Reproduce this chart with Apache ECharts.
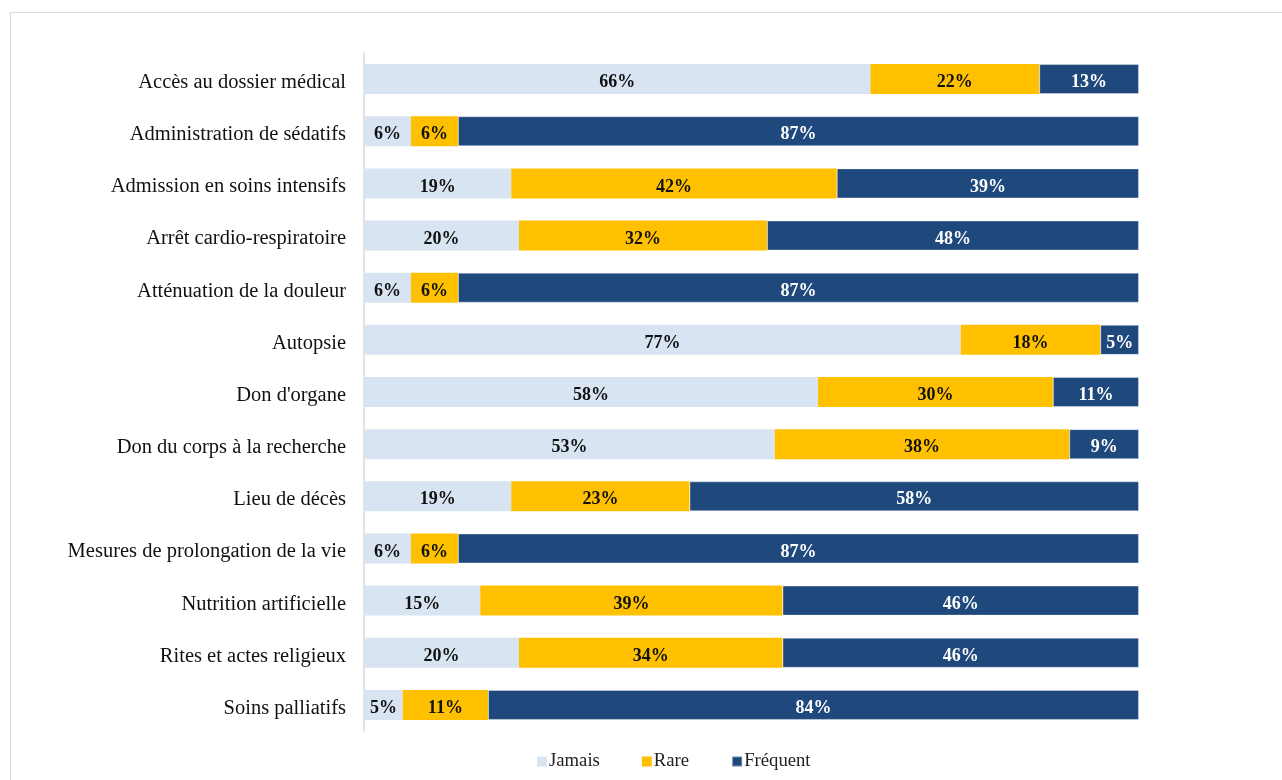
<!DOCTYPE html>
<html>
<head>
<meta charset="utf-8">
<script src="https://cdn.jsdelivr.net/npm/echarts@6/dist/echarts.min.js"></script>
<style>
html,body{margin:0;padding:0;background:#fff;}
#chart{width:1282px;height:780px;}
</style>
</head>
<body>
<div id="chart"></div>
<script>
const categories = [
  "Accès au dossier médical",
  "Administration de sédatifs",
  "Admission en soins intensifs",
  "Arrêt cardio-respiratoire",
  "Atténuation de la douleur",
  "Autopsie",
  "Don d'organe",
  "Don du corps à la recherche",
  "Lieu de décès",
  "Mesures de prolongation de la vie",
  "Nutrition artificielle",
  "Rites et actes religieux",
  "Soins palliatifs"
];
const seriesNames = ["Jamais", "Rare", "Fréquent"];
const jamais   = [66, 6, 19, 20, 6, 77, 58, 53, 19, 6, 15, 20, 5];
const rare     = [22, 6, 42, 32, 6, 18, 30, 38, 23, 6, 39, 34, 11];
const frequent = [13, 87, 39, 48, 87, 5, 11, 9, 58, 87, 46, 46, 84];

const raw = [jamais, rare, frequent];
const colors = ["#D9E4F2", "#FFC000", "#1F497D"];
const labelColors = ["#111", "#111", "#fff"];
const totals = categories.map((c, i) => jamais[i] + rare[i] + frequent[i]);

const chart = echarts.init(document.getElementById('chart'));
const font = "'Liberation Serif', 'Times New Roman', serif";

chart.setOption({
  animation: false,
  textStyle: { fontFamily: font },
  graphic: [
    { type: 'line', shape: { x1: 10, y1: 12.5, x2: 1282, y2: 12.5 }, style: { stroke: '#d9d9d9', lineWidth: 1 } },
    { type: 'line', shape: { x1: 10.5, y1: 12, x2: 10.5, y2: 780 }, style: { stroke: '#d9d9d9', lineWidth: 1 } }
  ],
  legend: {
    data: seriesNames,
    left: 532,
    top: 747,
    itemWidth: 10,
    itemHeight: 10,
    itemGap: 42,
    icon: 'rect',
    textStyle: { fontFamily: font, fontSize: 18.7, color: '#222', padding: [0, 0, 0, -3] }
  },
  grid: { left: 364, right: 143, top: 53, height: 678, containLabel: false },
  xAxis: {
    type: 'value', min: 0, max: 100, show: false
  },
  yAxis: {
    type: 'category',
    data: categories,
    inverse: true,
    axisLine: { show: true, lineStyle: { color: '#d9d9d9', width: 1.5 } },
    axisTick: { show: false },
    axisLabel: {
      margin: 18,
      formatter: v => '{a|' + v + '}',
      rich: { a: { fontFamily: font, fontSize: 20.5, color: '#111', padding: [7, 0, 0, 0] } }
    }
  },
  series: seriesNames.map((name, s) => ({
    name: name,
    type: 'bar',
    stack: 'total',
    barWidth: 30,
    itemStyle: { color: colors[s], borderColor: 'rgba(255,255,255,0.35)', borderWidth: s === 2 ? 1 : 0 },
    label: {
      show: true,
      position: 'inside',
      offset: [0, 3.5],
      fontFamily: font,
      fontWeight: 'bold',
      fontSize: 18,
      color: labelColors[s],
      formatter: p => raw[s][p.dataIndex] + '%'
    },
    data: raw[s].map((v, i) => v / totals[i] * 100)
  }))
});
</script>
</body>
</html>
